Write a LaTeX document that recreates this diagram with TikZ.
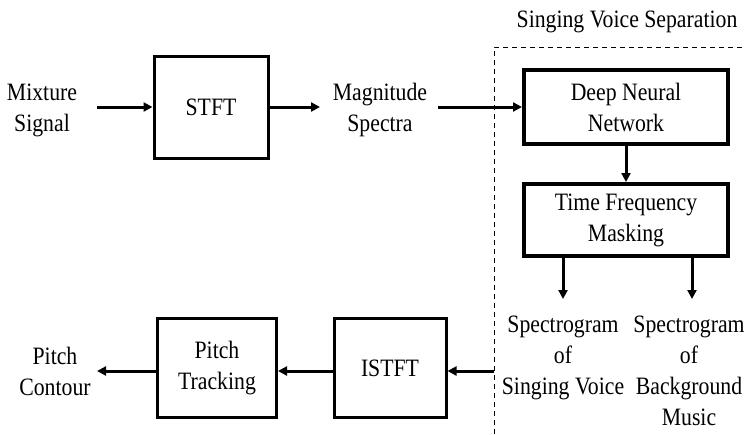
\documentclass[tikz,border=0pt]{standalone}
\usepackage{fontspec}
\setmainfont{Liberation Serif}[FakeStretch=0.87]
\usetikzlibrary{arrows.meta}
\begin{document}
\begin{tikzpicture}[x=1pt,y=-1pt,
  every node/.style={font=\fontsize{25}{31}\selectfont, align=center, inner sep=0pt},
  box/.style={draw, line width=3pt},
  thk/.style={draw, line width=4pt},
  conn/.style={line width=3pt, -{Triangle[length=9pt,width=9pt]}}]
\useasboundingbox (0,0) rectangle (746,434);
% dashed region
\draw[line width=0.9pt, dash pattern=on 5pt off 4pt] (494,434) -- (494,47) -- (746,47);
\node (svs) at (627,22) {Singing Voice Separation};
% top row
\node (mix) at (42,110) {Mixture\\Signal};
\node[box, minimum width=114pt, minimum height=102pt] (stft) at (211,107) {STFT};
\node (mag) at (380,110) {Magnitude\\Spectra};
\node[thk, minimum width=204pt, minimum height=74pt] (dnn) at (626,107) {Deep Neural\\Network};
\node[thk, minimum width=204pt, minimum height=72pt] (tfm) at (626,220) {Time Frequency\\Masking};
\coordinate (mixR) at (97,107);
\coordinate (magR) at (438,107);
\coordinate (magL) at (320,107);
\draw[conn] (mixR) -- (stft.west);
\draw[conn] (stft.east) -- (magL);
\draw[conn] (magR) -- (dnn.west);
\draw[conn] (dnn) -- (tfm);
% outputs
\coordinate (a1) at (563,257);
\coordinate (a1e) at (563,299);
\coordinate (a2) at (692,257);
\coordinate (a2e) at (692,299);
\draw[conn] (a1) -- (a1e);
\draw[conn] (a2) -- (a2e);
\node[anchor=north] (sv) at (563,316) {Spectrogram\\of\\Singing Voice};
\node[anchor=north] (bm) at (689,316) {Spectrogram\\of\\Background\\Music};
% bottom row
\node[box, minimum width=112pt, minimum height=99pt] (istft) at (390,368) {ISTFT};
\node[box, minimum width=119pt, minimum height=99pt] (pt) at (217,368) {Pitch\\Tracking};
\node (pc) at (55,371) {Pitch\\Contour};
\coordinate (dashin) at (494,371);
\coordinate (pcR) at (97,371);
\draw[conn] (dashin) -- (istft.east |- dashin);
\draw[conn] (istft.west |- dashin) -- (pt.east |- dashin);
\draw[conn] (pt.west |- dashin) -- (pcR);
\end{tikzpicture}
\end{document}
